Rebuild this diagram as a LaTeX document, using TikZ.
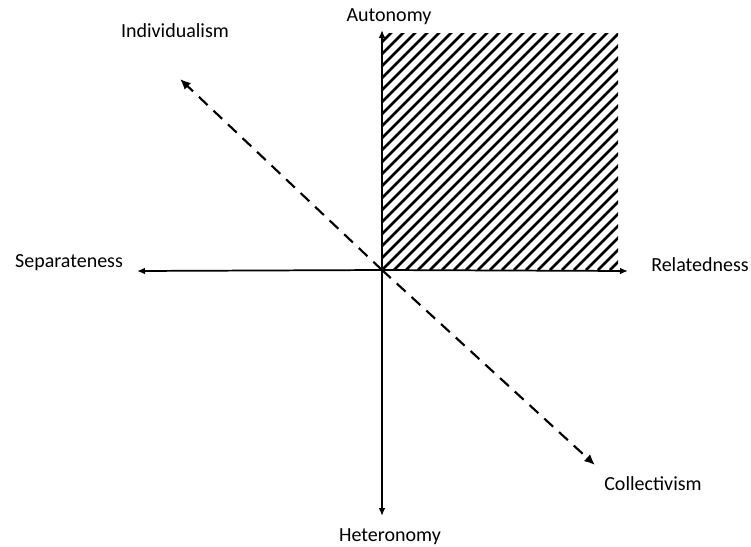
\documentclass[tikz,border=0pt]{standalone}
\usepackage{fontspec}
\setmainfont{Carlito}
\usetikzlibrary{arrows.meta, positioning, calc}

\begin{document}
\begin{tikzpicture}[x=0.75pt, y=-0.75pt, every node/.style={font=\fontsize{15}{18}\selectfont, inner sep=0pt}, axis/.style={line width=1.3pt, -{Latex[length=6pt, width=5pt]}}, diag/.style={line width=1.6pt, dash pattern=on 9pt off 6pt, -{Latex[length=8pt, width=7pt]}}]
\useasboundingbox (0,0) rectangle (751,547);
\coordinate (o) at (382,270);
\coordinate (top) at (382,30);
\coordinate (bot) at (382,516);
\coordinate (left) at (137,271);
\coordinate (right) at (628,271);
\coordinate (ul) at (180,79);
\coordinate (lr) at (595,465);
% hatched quadrant
\begin{scope}
\clip (382,33) rectangle (618,270);
\foreach \i in {0,12,...,504}
  \draw[line width=2pt] (382+\i-240,270) -- (382+\i,30);
\end{scope}
% axes
\draw[axis] (o) -- (top);
\draw[axis] (o) -- (bot);
\draw[axis] (o) -- (left);
\draw[axis] (o) -- (right);
\draw[diag] (o) -- (ul);
\draw[diag] (o) -- (lr);
% labels
\node (auto) at (389,17) {Autonomy};
\node (hetero) at (390,537) {Heteronomy};
\node (sep) at (69,263) {Separateness};
\node (rel) at (700,265) {Relatedness};
\node (indiv) at (175,31) {Individualism};
\node (coll) at (653,484) {Collectivism};
\end{tikzpicture}
\end{document}
